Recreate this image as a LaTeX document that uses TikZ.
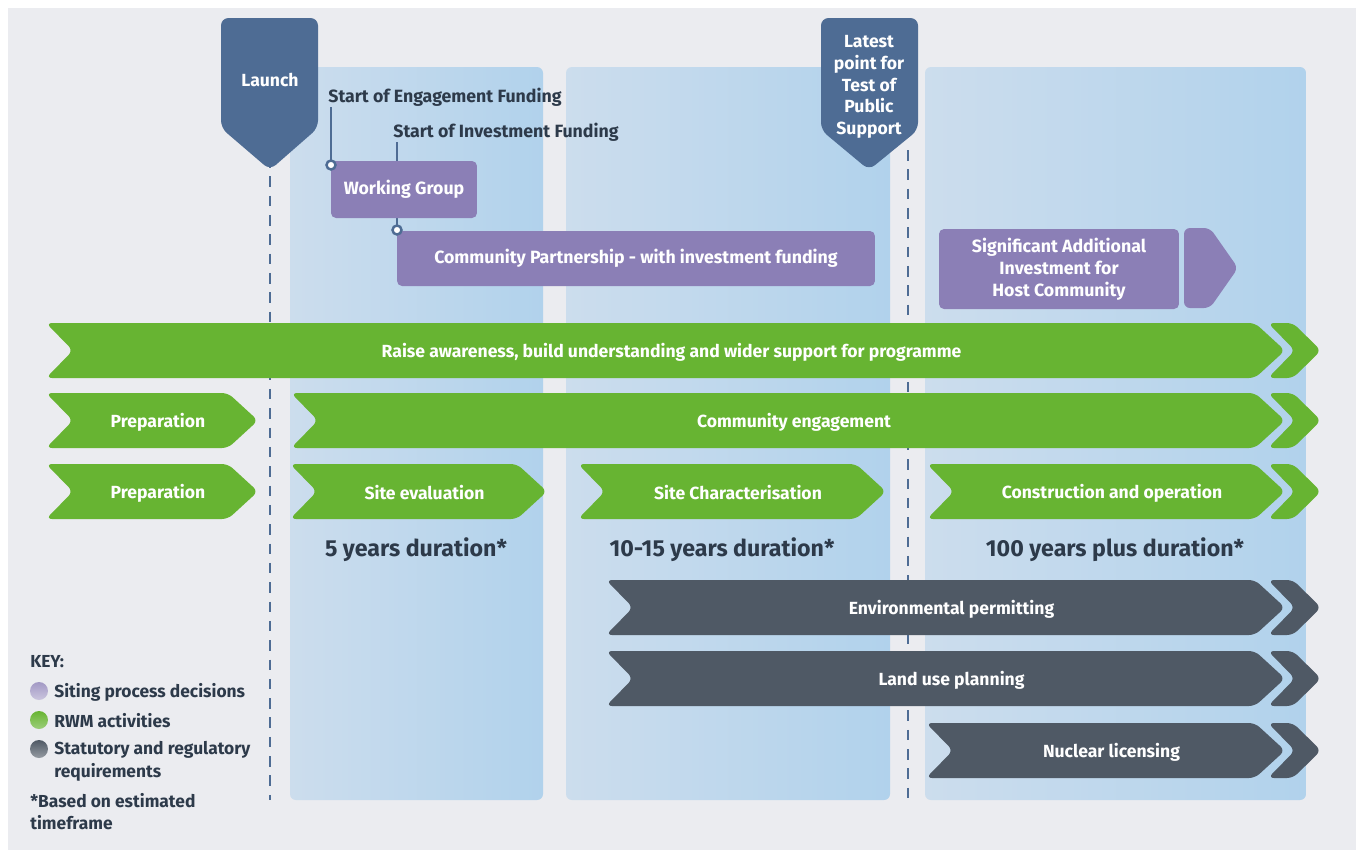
\documentclass[tikz,border=0pt]{standalone}
\usepackage{fontspec}
\setmainfont{Fira Sans}
\usetikzlibrary{positioning,calc}

\definecolor{panel}{HTML}{EBECF0}
\definecolor{colL}{HTML}{CCDDED}
\definecolor{colR}{HTML}{B1D2EC}
\definecolor{marker}{HTML}{4E6C94}
\definecolor{siting}{HTML}{8B7FB6}
\definecolor{rwm}{HTML}{67B432}
\definecolor{statut}{HTML}{4F5965}
\definecolor{ink}{HTML}{2D3A4A}

\tikzset{
  lbl/.style={text=white,font=\bfseries\fontsize{10}{11}\selectfont},
  mk/.style={text=white,font=\bfseries\fontsize{10}{12.4}\selectfont,align=center},
  note/.style={text=ink,font=\bfseries\fontsize{10.1}{11}\selectfont,inner sep=0pt},
  dur/.style={text=ink,font=\bfseries\fontsize{13.2}{14}\selectfont},
  keyt/.style={text=ink,font=\bfseries\fontsize{9.9}{12.8}\selectfont,inner sep=0pt,align=left},
  box/.style={fill=siting,rounded corners=0.1cm,text=white,font=\bfseries\fontsize{10.1}{12.4}\selectfont,align=center,inner sep=0pt},
  tick/.style={marker,line width=1.4pt},
  dashline/.style={marker,line width=1.4pt,dash pattern=on 6pt off 5pt},
}

% bar arrow: name, x left, x tip, y top, colour, text
\newcommand{\rowbar}[6]{%
  \fill[#5,rounded corners=0.12cm] (#2,#4) -- ({#3-30},#4) -- (#3,{#4+27.5})
    -- ({#3-30},{#4+55}) -- (#2,{#4+55}) -- ({#2+27},{#4+27.5}) -- cycle;
  \node[lbl] (#1) at ({(#2+#3)/2+6},{#4+29}) {#6};
}
% chevron after a bar: x tip of bar, y top, colour
\newcommand{\chev}[3]{%
  \fill[#3,rounded corners=0.12cm] ({#1-17},#2) -- ({#1+8},#2) -- ({#1+36},{#2+27.5})
    -- ({#1+8},{#2+55}) -- ({#1-17},{#2+55}) -- ({#1+10},{#2+27.5}) -- cycle;
}

\begin{document}
\begin{tikzpicture}[x=0.02cm,y=-0.02cm]
  \useasboundingbox (0,0) rectangle (1356,850);
  \fill[white] (0,0) rectangle (1356,850);
  \fill[panel] (8,8) rectangle (1356,850);

  % phase columns
  \foreach \a/\b in {290/543,566/890,925/1306}
    \shade[rounded corners=0.12cm,left color=colL,right color=colR] (\a,67) rectangle (\b,800);

  % milestones
  \fill[marker,rounded corners=0.15cm] (221,18) -- (318,18) -- (318,128) -- (270,170) -- (221,128) -- cycle;
  \node[mk] (launch) at (270,80) {Launch};
  \fill[marker,rounded corners=0.15cm] (821,18) -- (918,18) -- (918,130) -- (869,170) -- (821,130) -- cycle;
  \node[mk] (latest) at (869,87) {Latest\\point for\\Test of\\Public\\Support};
  \draw[dashline] (270,157) -- (270,800);
  \draw[dashline] (908,150) -- (908,800);

  % funding starts
  \node[note,anchor=west] (engage) at (328,97) {Start of Engagement Funding};
  \node[note,anchor=west] (invest) at (393,132) {Start of Investment Funding};
  \coordinate (engdot) at (331,165);
  \coordinate (invdot) at (397,230);
  \draw[tick] (engdot |- 0,107) -- (engdot);
  \draw[tick] (invdot |- 0,142) -- (invdot);

  \node[box,minimum width=2.92cm,minimum height=1.14cm] (group) at (404,189.5) {Working Group};
  \node[box,minimum width=9.56cm,minimum height=1.1cm] (partner) at (636,258.5) {Community Partnership - with investment funding};
  \node[box,minimum width=4.8cm,minimum height=1.6cm] (host) at (1059,269) {Significant Additional\\Investment for\\Host Community};
  \fill[siting,rounded corners=0.12cm] (1184,228) -- (1210,228) -- (1238,268) -- (1210,308) -- (1184,308) -- cycle;
  \draw[tick,fill=white] (engdot) circle (0.09cm);
  \draw[tick,fill=white] (invdot) circle (0.09cm);

  % RWM activities
  \rowbar{aware}{46}{1285}{323}{rwm}{Raise awareness, build understanding and wider support for programme}
  \chev{1285}{323}{rwm}
  \rowbar{prepA}{46}{258}{393}{rwm}{Preparation}
  \rowbar{engage2}{291}{1285}{393}{rwm}{Community engagement}
  \chev{1285}{393}{rwm}
  \rowbar{prepB}{46}{258}{464}{rwm}{Preparation}
  \rowbar{evalu}{290}{547}{464}{rwm}{Site evaluation}
  \rowbar{charac}{578}{886}{464}{rwm}{Site Characterisation}
  \rowbar{constr}{927}{1285}{464}{rwm}{Construction and operation}
  \chev{1285}{464}{rwm}

  \node[dur] (dur1) at (416,550) {5 years duration*};
  \node[dur] (dur2) at (722,550) {10-15 years duration*};
  \node[dur] (dur3) at (1115,550) {100 years plus duration*};

  % statutory and regulatory
  \rowbar{permit}{606}{1285}{580}{statut}{Environmental permitting}
  \chev{1285}{580}{statut}
  \rowbar{landuse}{606}{1285}{651}{statut}{Land use planning}
  \chev{1285}{651}{statut}
  \rowbar{nuclear}{926}{1285}{723}{statut}{Nuclear licensing}
  \chev{1285}{723}{statut}

  % key
  \node[keyt,anchor=west] (key) at (30,662) {KEY:};
  \shade[top color=siting!80,bottom color=siting!45] (39,691) circle (0.18cm);
  \shade[top color=rwm,bottom color=rwm!65] (39,720) circle (0.18cm);
  \shade[top color=statut,bottom color=statut!60] (39,749) circle (0.18cm);
  \node[keyt,anchor=west] (keyA) at (54,692) {Siting process decisions};
  \node[keyt,anchor=west] (keyB) at (54,721) {RWM activities};
  \node[keyt,anchor=north west] (keyC) at (54,741) {Statutory and regulatory\\requirements};
  \node[keyt,anchor=north west] (keyD) at (30,793) {*Based on estimated\\timeframe};
\end{tikzpicture}
\end{document}
